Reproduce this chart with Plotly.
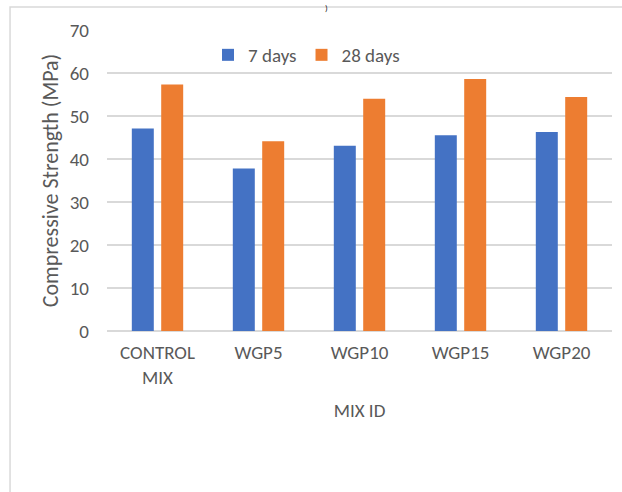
import plotly.graph_objects as go

mix_ids = ["CONTROL<br>MIX", "WGP5", "WGP10", "WGP15", "WGP20"]
strength_7d = [47.1, 37.8, 43.1, 45.5, 46.3]
strength_28d = [57.3, 44.1, 54.0, 58.6, 54.4]
y_ticks = [0, 10, 20, 30, 40, 50, 60, 70]

FONT = "Calibri, Carlito, Lato, sans-serif"
TEXT_COLOR = "#595959"
GRID_COLOR = "#d9d9d9"
FS = 19

fig = go.Figure()
fig.add_trace(go.Bar(name="7 days", x=mix_ids, y=strength_7d,
                     marker=dict(color="#4472C4", line=dict(width=0))))
fig.add_trace(go.Bar(name="28 days", x=mix_ids, y=strength_28d,
                     marker=dict(color="#ED7D31", line=dict(width=0))))

fig.update_layout(
    width=622, height=492,
    margin=dict(l=107, r=10, t=30, b=161, autoexpand=False),
    paper_bgcolor="white", plot_bgcolor="white",
    barmode="group", bargap=0.418, bargroupgap=0.252,
    font=dict(family=FONT, size=FS, color=TEXT_COLOR),
    legend=dict(orientation="h", x=0.2, xanchor="left", y=0.917, yanchor="middle",
                bgcolor="rgba(0,0,0,0)", itemwidth=30,
                font=dict(family=FONT, size=FS, color=TEXT_COLOR)),
    xaxis=dict(
        title=dict(text="MIX ID", standoff=15, font=dict(family=FONT, size=FS, color=TEXT_COLOR)),
        showgrid=False, showline=False, zeroline=False, ticks="",
        tickfont=dict(family=FONT, size=FS, color=TEXT_COLOR),
        ticklabelstandoff=8, automargin=False,
    ),
    yaxis=dict(
        title=dict(text="Compressive Strength (MPa)", standoff=5,
                   font=dict(family=FONT, size=22, color=TEXT_COLOR)),
        range=[0, 70], tickvals=y_ticks, ticktext=[str(v) for v in y_ticks],
        showgrid=True, gridcolor=GRID_COLOR, gridwidth=1.5,
        zeroline=True, zerolinecolor=GRID_COLOR, zerolinewidth=1.5,
        showline=False, ticks="",
        tickfont=dict(family=FONT, size=FS, color=TEXT_COLOR),
        ticklabelstandoff=17, automargin=False,
    ),
    showlegend=True,
)

# Chart frame (light gray border around the chart area)
fig.add_shape(type="rect", xref="paper", yref="paper",
              x0=-0.192, x1=1.03, y0=-0.56, y1=1.0764,
              line=dict(color=GRID_COLOR, width=1.5), fillcolor="rgba(0,0,0,0)",
              layer="below")

# Tail of the caption text above the frame
fig.add_annotation(text=")", xref="paper", yref="paper", x=0.4337, y=1.0997,
                   xanchor="center", yanchor="top", showarrow=False,
                   font=dict(family=FONT, size=9, color="#202020"))

fig.write_html("out.html")
